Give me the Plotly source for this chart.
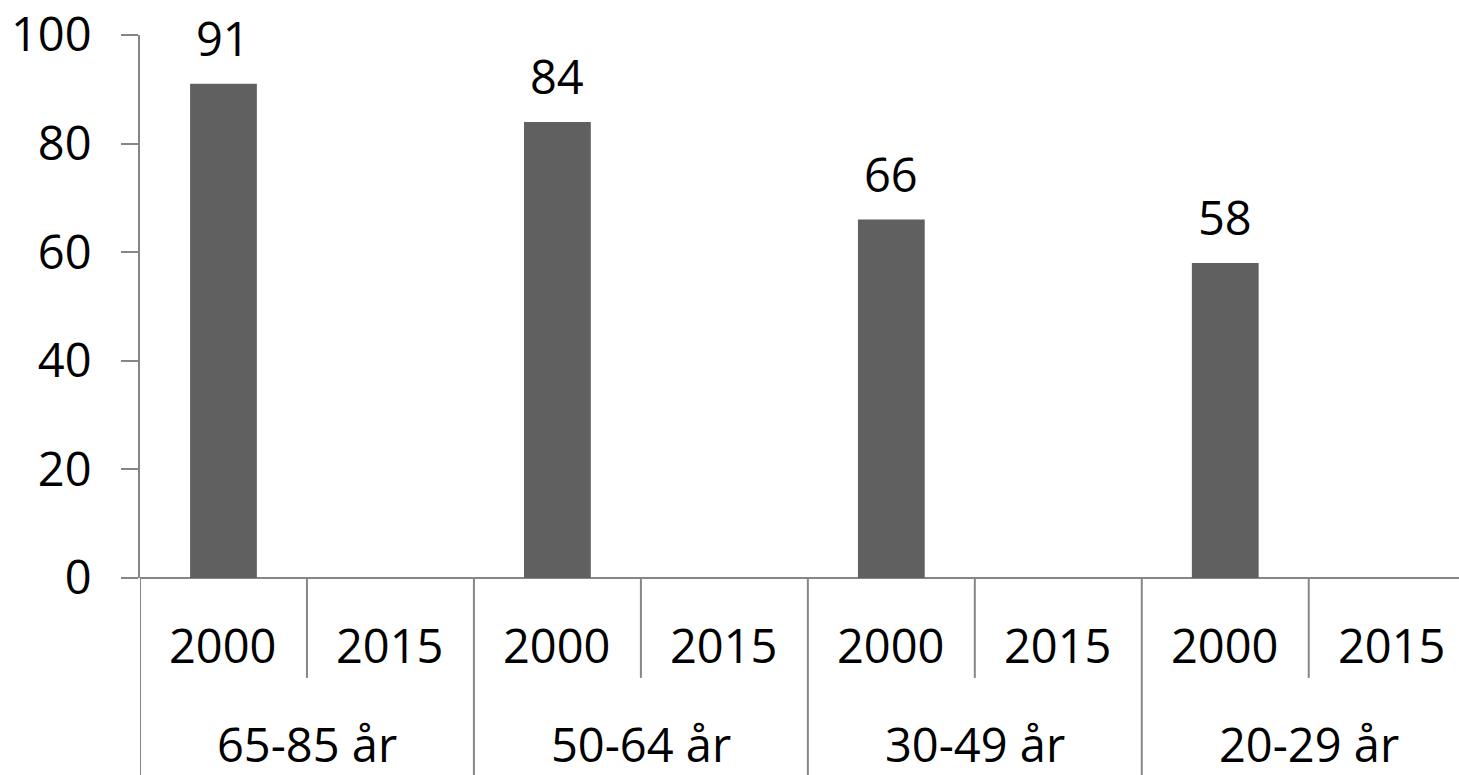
import plotly.graph_objects as go

groups = ["65-85 år", "50-64 år", "30-49 år", "20-29 år"]
years = ["2000", "2015"]
values_2000 = [91, 84, 66, 58]
values_2015 = [None, None, None, None]
y_ticks = [0, 20, 40, 60, 80, 100]

FONT = "Open Sans"
FS = 47
AXIS_COLOR = "#868686"
BAR_COLOR = "#606060"

# flatten into slots
xs, ys = [], []
for gi, g in enumerate(groups):
    for yi, yr in enumerate(years):
        xs.append(gi * len(years) + yi)
        v = values_2000[gi] if yr == "2000" else values_2015[gi]
        ys.append(v)

fig = go.Figure()
fig.add_trace(go.Bar(
    x=xs, y=ys, width=0.4, marker=dict(color=BAR_COLOR, line=dict(width=0)),
))

n = len(xs)
shapes = []
annotations = []
inner_bottom = -0.184
outer_bottom = -0.40
for i in range(n):
    left = i - 0.5
    is_group_edge = (i % len(years) == 0)
    shapes.append(dict(type="line", xref="x", yref="paper",
                       x0=left, x1=left, y0=0,
                       y1=outer_bottom if is_group_edge else inner_bottom,
                       line=dict(color=AXIS_COLOR, width=2)))
    annotations.append(dict(x=xs[i], y=-0.123, xref="x", yref="paper",
                            text=years[i % len(years)], showarrow=False,
                            font=dict(family=FONT, size=FS, color="black"),
                            xanchor="center", yanchor="middle"))
    if ys[i] is not None:
        annotations.append(dict(x=xs[i], y=ys[i], xref="x", yref="y",
                                text=str(ys[i]), showarrow=False, yshift=12,
                                font=dict(family=FONT, size=FS, color="black"),
                                xanchor="center", yanchor="bottom"))
for gi, g in enumerate(groups):
    annotations.append(dict(x=gi * len(years) + (len(years) - 1) / 2, y=-0.305,
                            xref="x", yref="paper", text=g, showarrow=False,
                            font=dict(family=FONT, size=FS, color="black"),
                            xanchor="center", yanchor="middle"))

fig.update_layout(
    width=1459, height=775,
    margin=dict(l=140, r=0, t=35, b=197),
    paper_bgcolor="white", plot_bgcolor="white",
    showlegend=False,
    shapes=shapes, annotations=annotations,
    xaxis=dict(range=[-0.5, 7.4], showticklabels=False, ticks="",
               showgrid=False, zeroline=False, showline=False),
    yaxis=dict(range=[0, 100], tickvals=y_ticks, ticks="outside", ticklen=17,
               tickcolor=AXIS_COLOR, tickwidth=2,
               showline=True, linecolor=AXIS_COLOR, linewidth=2,
               showgrid=False, zeroline=True, zerolinecolor=AXIS_COLOR, zerolinewidth=2,
               tickfont=dict(family=FONT, size=FS, color="black"),
               ticklabelstandoff=20),
)

fig.write_html("out.html", config={"displayModeBar": False},
               post_script="document.body.style.margin='0';document.body.style.overflow='hidden';")
